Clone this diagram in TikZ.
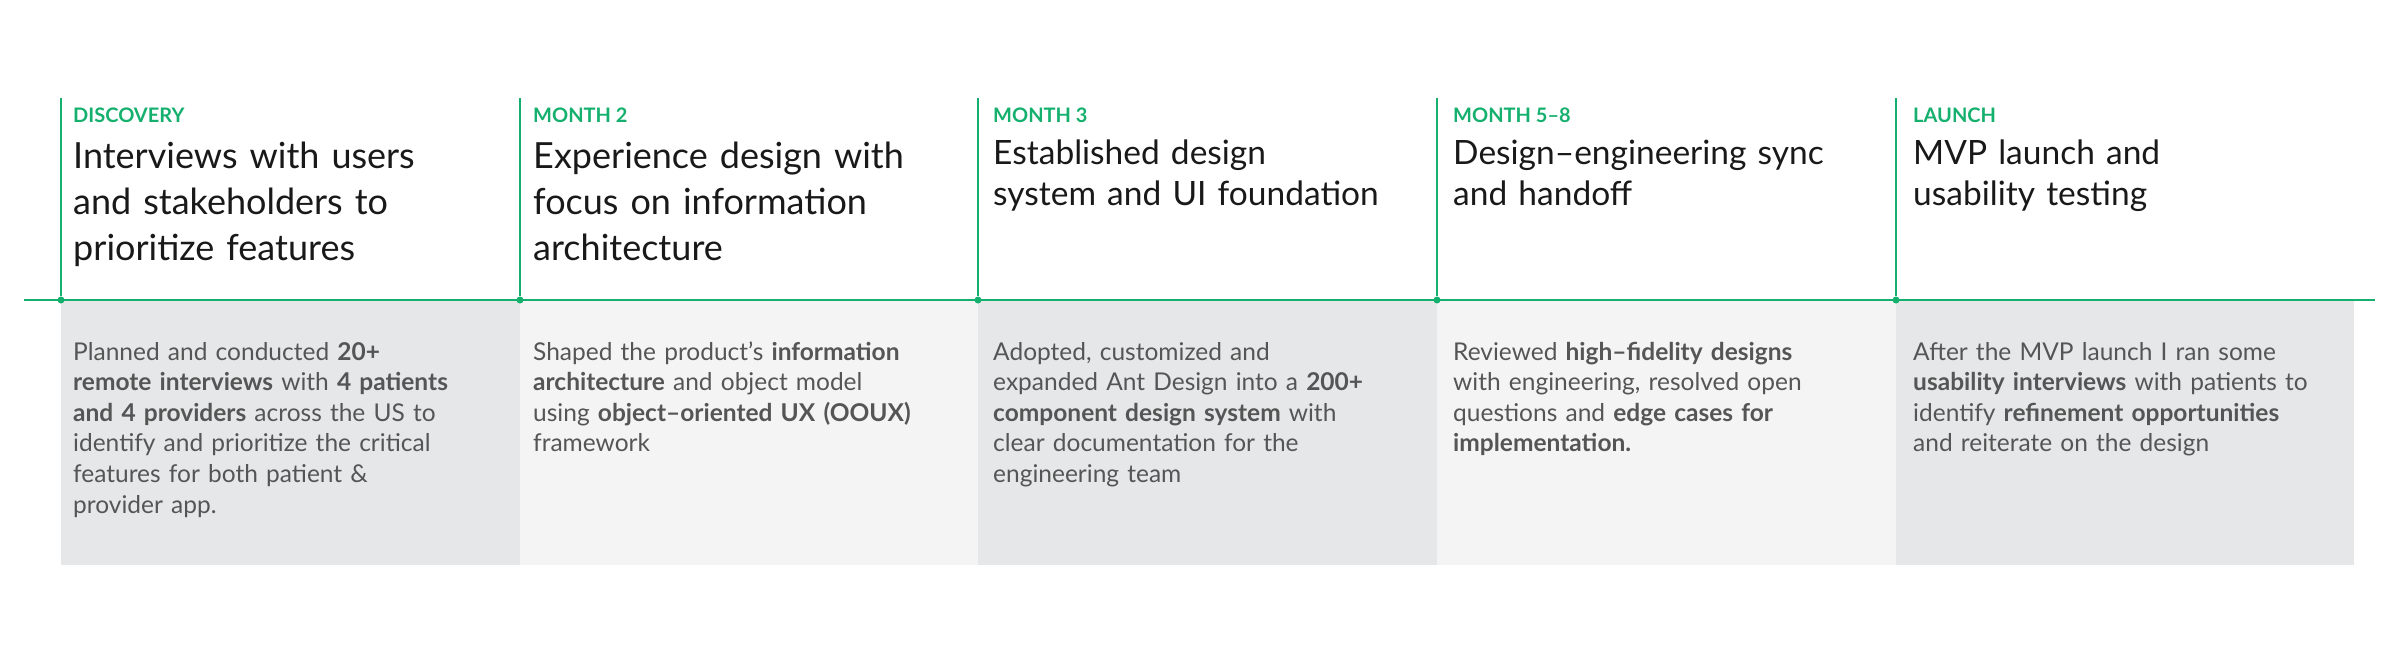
\documentclass[tikz,border=0pt]{standalone}
\usepackage{fontspec}
\setmainfont{Lato}
\definecolor{grn}{RGB}{22,176,110}
\definecolor{boxA}{RGB}{230,231,232}
\definecolor{boxB}{RGB}{244,244,244}
\definecolor{bodytxt}{RGB}{85,85,85}
\definecolor{ttl}{RGB}{25,25,25}
\begin{document}
\begin{tikzpicture}[x=1pt,y=-1pt,
  lab/.style={anchor=base west,inner sep=0pt,text=grn,font=\bfseries\fontsize{20}{22}\selectfont},
  ttlA/.style={anchor=base west,inner sep=0pt,text=ttl,text width=440pt,align=left,font=\fontsize{36}{46}\selectfont},
  ttlB/.style={anchor=base west,inner sep=0pt,text=ttl,text width=440pt,align=left,font=\fontsize{33.5}{41}\selectfont},
  body/.style={anchor=base west,inner sep=0pt,text=bodytxt,text width=440pt,align=left,font=\fontsize{24.5}{30.6}\selectfont},
  vl/.style={draw=grn,line width=1.2pt},
  dot/.style={circle,fill=grn,inner sep=0pt,minimum size=7pt}]
\useasboundingbox (0,0) rectangle (2400,665);
\fill[boxA] (61,300) rectangle (520,565);
\fill[boxB] (520,300) rectangle (978,565);
\fill[boxA] (978,300) rectangle (1437,565);
\fill[boxB] (1437,300) rectangle (1896,565);
\fill[boxA] (1896,300) rectangle (2354,565);
\coordinate (L) at (24,300);
\coordinate (R) at (2375,300);
\draw[vl] (L) -- (R);
\foreach \i/\x in {1/61,2/520,3/978,4/1437,5/1896}{
  \coordinate (t\i) at (\x,98);
  \node[dot] (d\i) at (\x,300) {};
  \draw[vl] (t\i) -- (d\i);
}
\node[lab] (l1) at (73,122) {DISCOVERY};
\node[lab] (l2) at (533,122) {MONTH 2};
\node[lab] (l3) at (993,122) {MONTH 3};
\node[lab] (l4) at (1453,122) {MONTH 5–8};
\node[lab] (l5) at (1913,122) {LAUNCH};
\node[ttlA] (h1) at (73,168) {Interviews with users\\and stakeholders to\\prioritize features};
\node[ttlA] (h2) at (533,168) {Experience design with\\focus on information\\architecture};
\node[ttlB] (h3) at (993,164) {Established design\\system and UI foundation};
\node[ttlB] (h4) at (1453,164) {Design–engineering sync\\and handoff};
\node[ttlB] (h5) at (1913,164) {MVP launch and\\usability testing};
\node[body] (b1) at (73,360) {Planned and conducted \textbf{20+}\\\textbf{remote interviews} with \textbf{4 patients}\\\textbf{and 4 providers} across the US to\\identify and prioritize the critical\\features for both patient \&\\provider app.};
\node[body] (b2) at (533,360) {Shaped the product's \textbf{information}\\\textbf{architecture} and object model\\using \textbf{object–oriented UX (OOUX)}\\framework};
\node[body] (b3) at (993,360) {Adopted, customized and\\expanded Ant Design into a \textbf{200+}\\\textbf{component design system} with\\clear documentation for the\\engineering team};
\node[body] (b4) at (1453,360) {Reviewed \textbf{high–fidelity designs}\\with engineering, resolved open\\questions and \textbf{edge cases for}\\\textbf{implementation.}};
\node[body] (b5) at (1913,360) {After the MVP launch I ran some\\\textbf{usability interviews} with patients to\\identify \textbf{refinement opportunities}\\and reiterate on the design};
\end{tikzpicture}
\end{document}
